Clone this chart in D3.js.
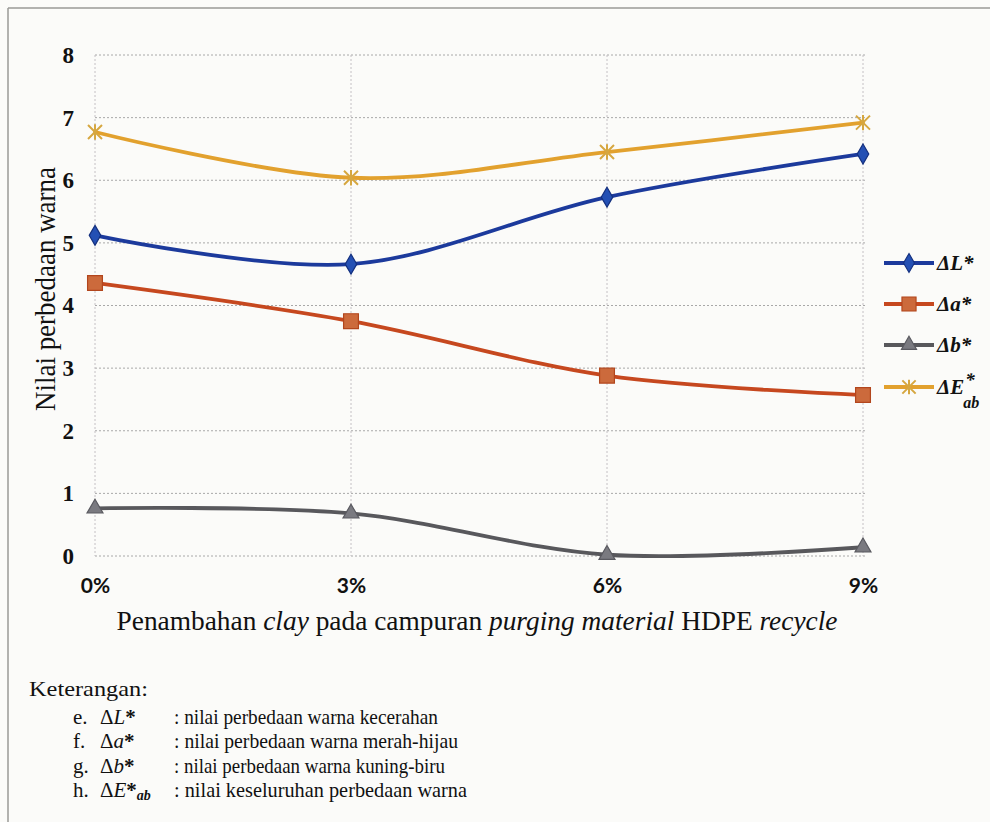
<!DOCTYPE html>
<html>
<head>
<meta charset="utf-8">
<script src="https://cdn.jsdelivr.net/npm/d3@7"></script>
<style>
  html, body { margin: 0; padding: 0; background: #fbfbf9; }
  svg { display: block; }
</style>
</head>
<body>
<svg id="chart" width="990" height="822"></svg>
<script>
// Data: colour-difference values against clay addition
const categories = ["0%", "3%", "6%", "9%"];
const deltaL = [5.12, 4.66, 5.73, 6.42];
const deltaA = [4.36, 3.75, 2.88, 2.57];
const deltaB = [0.76, 0.68, 0.02, 0.14];
const deltaE = [6.77, 6.04, 6.45, 6.92];
const yTicks = [0, 1, 2, 3, 4, 5, 6, 7, 8];

const svg = d3.select("#chart");
const W = 990, H = 822;
const serif = "'Liberation Serif', 'DejaVu Serif', serif";

// page frame
svg.append("line").attr("x1", 8).attr("y1", 8).attr("x2", W).attr("y2", 8)
  .attr("stroke", "#9a9a96").attr("stroke-width", 1.5);
svg.append("line").attr("x1", 8).attr("y1", 8).attr("x2", 8).attr("y2", H)
  .attr("stroke", "#9a9a96").attr("stroke-width", 1.5);

const plot = { left: 95, right: 863, top: 55, bottom: 556 };

const x = d3.scalePoint().domain(categories).range([plot.left, plot.right]);
const y = d3.scaleLinear().domain([0, 8]).range([plot.bottom, plot.top]);

const g = svg.append("g");

// horizontal gridlines
g.append("g").selectAll("line").data(yTicks).join("line")
  .attr("x1", plot.left).attr("x2", plot.right + 3)
  .attr("y1", d => y(d)).attr("y2", d => y(d))
  .attr("stroke", "#a8a8a8").attr("stroke-width", 1)
  .attr("stroke-dasharray", "2,2");

// vertical gridlines at each category
g.append("g").selectAll("line").data(categories).join("line")
  .attr("x1", d => x(d)).attr("x2", d => x(d))
  .attr("y1", plot.top).attr("y2", plot.bottom)
  .attr("stroke", "#c4c0c4").attr("stroke-width", 1)
  .attr("stroke-dasharray", "2,2");

// y axis tick labels
const yAxis = d3.axisLeft(y).tickValues(yTicks).tickSize(0).tickPadding(20)
  .tickFormat(d3.format("d"));
const yAx = svg.append("g").attr("transform", `translate(${plot.left - 1},0)`).call(yAxis);
yAx.select(".domain").remove();
yAx.selectAll("text")
  .attr("font-family", serif)
  .attr("font-weight", "bold").attr("font-size", 23).attr("fill", "#111");

// x axis tick labels
const xAxis = d3.axisBottom(x).tickSize(0).tickPadding(22);
const xAx = svg.append("g").attr("transform", `translate(0,${plot.bottom})`).call(xAxis);
xAx.select(".domain").remove();
xAx.selectAll("text")
  .attr("font-family", "Lato, 'Open Sans', sans-serif")
  .attr("font-weight", "bold").attr("font-size", 21).attr("fill", "#111");

// axis titles
svg.append("text")
  .attr("transform", "translate(55,289) rotate(-90)")
  .attr("text-anchor", "middle")
  .attr("font-family", serif).attr("font-size", 30)
  .attr("textLength", 244).attr("lengthAdjust", "spacingAndGlyphs")
  .attr("fill", "#111")
  .text("Nilai perbedaan warna");

const xt = svg.append("text")
  .attr("x", 477).attr("y", 630).attr("text-anchor", "middle")
  .attr("font-family", serif).attr("font-size", 27)
  .attr("textLength", 721).attr("lengthAdjust", "spacingAndGlyphs")
  .attr("fill", "#111");
xt.append("tspan").text("Penambahan ");
xt.append("tspan").attr("font-style", "italic").text("clay");
xt.append("tspan").text(" pada campuran ");
xt.append("tspan").attr("font-style", "italic").text("purging material");
xt.append("tspan").text(" HDPE ");
xt.append("tspan").attr("font-style", "italic").text("recycle");

// series styles
const styles = {
  L: { data: deltaL, line: "#1c3a9c", fill: "#2450b4", stroke: "#14307f", marker: "diamond" },
  a: { data: deltaA, line: "#c6481f", fill: "#cc6a3c", stroke: "#b2461d", marker: "square" },
  b: { data: deltaB, line: "#58585c", fill: "#7a7a80", stroke: "#5a5a60", marker: "triangle" },
  E: { data: deltaE, line: "#e2a12e", fill: "none", stroke: "#d6a740", marker: "star" }
};
const keys = ["L", "a", "b", "E"];

const lineGen = d3.line()
  .x((d, i) => x(categories[i]))
  .y(d => y(d))
  .curve(d3.curveCardinal.tension(0));

const markerPath = {
  diamond: d3.symbol().type(d3.symbolDiamond).size(115),
  square: d3.symbol().type(d3.symbolSquare).size(220),
  triangle: d3.symbol().type(d3.symbolTriangle).size(110)
};

function drawMarker(sel, st, cx, cy, scale) {
  const s = scale || 1;
  if (st.marker === "star") {
    const r = 7 * s;
    const p = `M${-r},${-r}L${r},${r}M${-r},${r}L${r},${-r}M0,${-r * 1.1}L0,${r * 1.1}`;
    sel.append("path").attr("d", p).attr("transform", `translate(${cx},${cy})`)
      .attr("stroke", st.stroke).attr("stroke-width", 2).attr("fill", "none");
  } else {
    sel.append("path").attr("d", markerPath[st.marker]())
      .attr("transform", `translate(${cx},${cy}) scale(${s})`)
      .attr("fill", st.fill).attr("stroke", st.stroke).attr("stroke-width", 1.2);
  }
}

const seriesG = svg.append("g");
keys.forEach(k => {
  const st = styles[k];
  seriesG.append("path").datum(st.data)
    .attr("d", lineGen)
    .attr("fill", "none").attr("stroke", st.line).attr("stroke-width", 3.8)
    .attr("stroke-linecap", "round");
});
keys.forEach(k => {
  const st = styles[k];
  st.data.forEach((v, i) => drawMarker(seriesG, st, x(categories[i]), y(v)));
});

// legend
const legendY = [263, 304, 345, 387];
const leg = svg.append("g")
  .attr("font-family", serif).attr("font-weight", "bold")
  .attr("font-style", "italic").attr("fill", "#111");
keys.forEach((k, i) => {
  const st = styles[k];
  const ly = legendY[i];
  leg.append("line").attr("x1", 884).attr("x2", 934).attr("y1", ly).attr("y2", ly)
    .attr("stroke", st.line).attr("stroke-width", 3.8);
  drawMarker(leg, st, 909, ly, 0.95);
  if (k !== "E") {
    leg.append("text").attr("x", 937).attr("y", ly + 7).attr("font-size", 21)
      .text("Δ" + k + "*");
  } else {
    // ΔE with the asterisk raised and "ab" set below it
    const main = leg.append("text").attr("x", 937).attr("y", ly + 7)
      .attr("font-size", 21).text("ΔE");
    const w = main.node().getComputedTextLength();
    leg.append("text").attr("x", 937 + w + 1).attr("y", ly - 1)
      .attr("font-size", 19).text("*");
    leg.append("text").attr("x", 937 + w - 1).attr("y", ly + 21)
      .attr("font-size", 16).text("ab");
  }
});

// notes beneath the chart
const notes = [
  { tag: "e.", sym: "L", sub: "", desc: ": nilai perbedaan warna kecerahan", len: 264 },
  { tag: "f.", sym: "a", sub: "", desc: ": nilai perbedaan warna merah-hijau", len: 284 },
  { tag: "g.", sym: "b", sub: "", desc: ": nilai perbedaan warna kuning-biru", len: 271 },
  { tag: "h.", sym: "E", sub: "ab", desc: ": nilai keseluruhan perbedaan warna", len: 293 }
];
const nt = svg.append("g")
  .attr("font-family", serif).attr("font-size", 21).attr("fill", "#111");
nt.append("text").attr("x", 29).attr("y", 696)
  .attr("textLength", 119).attr("lengthAdjust", "spacingAndGlyphs").text("Keterangan:");
notes.forEach((n, i) => {
  const by = 724 + i * 24.3;
  nt.append("text").attr("x", 73).attr("y", by).text(n.tag);
  const s = nt.append("text").attr("x", 100).attr("y", by);
  s.append("tspan").text("Δ");
  s.append("tspan").attr("font-style", "italic").text(n.sym);
  s.append("tspan").attr("font-weight", "bold").text("*");
  if (n.sub) {
    s.append("tspan").attr("font-style", "italic").attr("font-weight", "bold")
      .attr("font-size", 14).attr("dy", 3).text(n.sub);
  }
  nt.append("text").attr("x", 174).attr("y", by)
    .attr("textLength", n.len).attr("lengthAdjust", "spacingAndGlyphs").text(n.desc);
});
</script>
</body>
</html>
